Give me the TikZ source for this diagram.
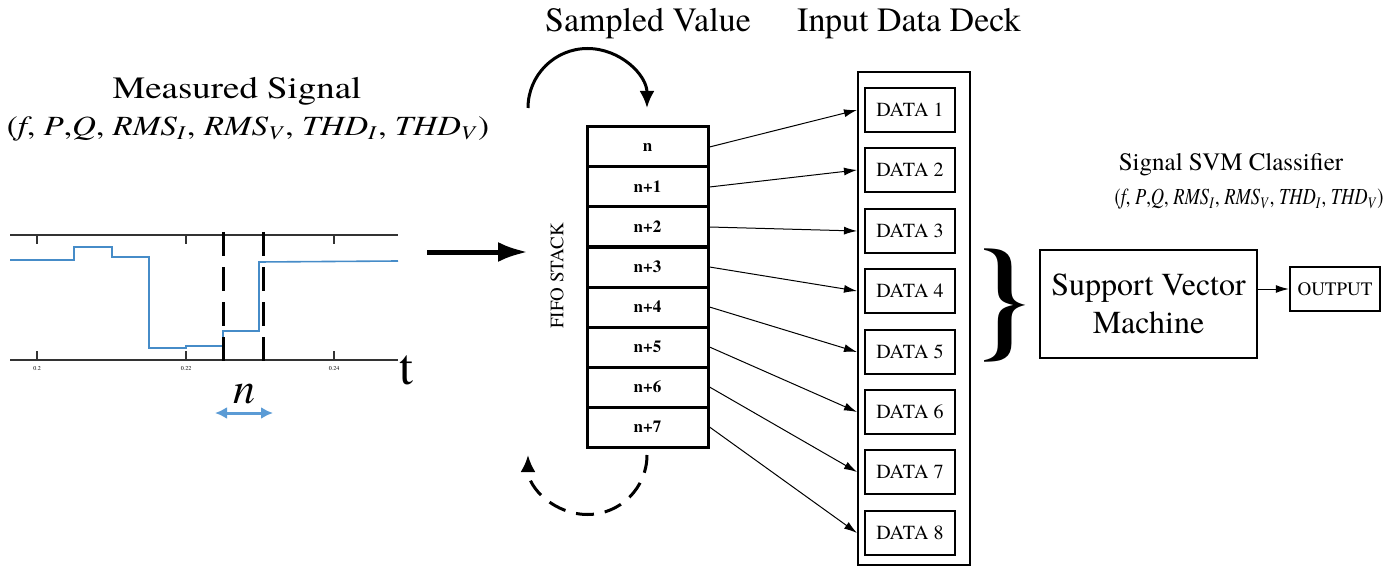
\documentclass[tikz,border=0pt]{standalone}
\usepackage{graphicx}
\usepackage{fontspec}
\setmainfont{texgyretermes}[Extension=.otf, UprightFont=*-regular, BoldFont=*-bold, ItalicFont=*-italic, BoldItalicFont=*-bolditalic]
\usetikzlibrary{arrows.meta}
\usetikzlibrary{calc}

\definecolor{sigblue}{RGB}{70,140,200}
\definecolor{arrblue}{RGB}{91,155,213}

\newcommand{\fsz}[1]{\fontsize{#1}{#1}\selectfont}
\newcommand{\isub}[2]{\textit{#1}\textsubscript{\textit{#2}}}
\newcommand{\varlist}{(\textit{f}, \textit{P},\textit{Q}, \isub{RMS}{I}, \isub{RMS}{V}, \isub{THD}{I}, \isub{THD}{V})}

\begin{document}
\begin{tikzpicture}[x=0.5pt, y=-0.5pt, line width=0.5pt, >={Latex[length=6.5pt,width=4pt]},
    cell/.style={draw, line width=1.5pt, minimum width=60.5pt, minimum height=20pt, inner sep=0, font=\bfseries\fsz{8.5}},
    datum/.style={draw, line width=1.25pt, minimum width=45pt, minimum height=22pt, inner sep=0, font=\fsz{10}}]

    \useasboundingbox (0,0) rectangle (1399,567);

    % Declare the titles
    \node[font=\fsz{15.5}] (mtitle) at (237,91) {\scalebox{1.19}[1]{Measured Signal}};
    \node[font=\fsz{13.9}] (mvars) at (248,129) {\scalebox{1.19}[1]{\varlist}};
    \node[font=\fsz{17}] (stitle) at (648,24) {Sampled Value};
    \node[font=\fsz{17}] (dtitle) at (909,24) {Input Data Deck};
    \node[font=\fsz{12.5}] (ctitle) at (1231,165) {Signal SVM Classifier};
    \node[font=\fsz{11.5}] (cvars) at (1249,199) {\scalebox{0.8}[1]{\varlist}};

    % Declare the signal plot
    \draw[line width=0.6pt, black!80] (10,235) -- (398,235);
    \draw[line width=0.6pt, black!80] (10,360) -- (398,360);
    \draw[line width=0.6pt, black!80] (37,235) -- ++(0,9) (186,235) -- ++(0,9) (334,235) -- ++(0,9);
    \draw[line width=0.6pt, black!80] (37,360) -- ++(0,-9) (186,360) -- ++(0,-9) (334,360) -- ++(0,-9);
    \node[font=\fsz{3}] (tk0) at (37,369) {0.2};
    \node[font=\fsz{3}] (tk1) at (186,369) {0.22};
    \node[font=\fsz{3}] (tk2) at (334,369) {0.24};
    \draw[sigblue, line width=0.8pt] (10,260) -- (74,260) -- (74,247) -- (112,247) -- (112,257)
        -- (149,257) -- (149,348) -- (186,348) -- (186,346) -- (223,346) -- (223,331)
        -- (259,331) -- (259,262) -- (398,261);
    \draw[line width=1.5pt, dash pattern=on 12pt off 5.5pt] (223,232) -- (223,370);
    \draw[line width=1.5pt, dash pattern=on 12pt off 5.5pt] (263,232) -- (263,370);
    \node[font=\fsz{25}] (tlab) at (406,370) {t};
    \node[font=\fsz{22}\itshape] (nlab) at (244,394) {n};
    \draw[arrblue, line width=1.5pt, {Latex[length=6pt,width=6pt]}-{Latex[length=6pt,width=6pt]}] (215,413) -- (273,413);

    % Declare the input arrow
    \coordinate (sig) at (427,252);
    \coordinate (fifoin) at (528,252);
    \draw[line width=2.5pt, -{Latex[length=15pt,width=10pt]}] (sig) -- (fifoin);

    % Declare the stack
    \node[rotate=90, font=\fsz{9.5}] (fifo) at (557,276) {FIFO STACK};
    \node[cell] (s0) at (647.5,147) {n};
    \node[cell] (s1) at (647.5,187) {n+1};
    \node[cell] (s2) at (647.5,227) {n+2};
    \node[cell] (s3) at (647.5,267) {n+3};
    \node[cell] (s4) at (647.5,307) {n+4};
    \node[cell] (s5) at (647.5,347) {n+5};
    \node[cell] (s6) at (647.5,387) {n+6};
    \node[cell] (s7) at (647.5,427) {n+7};

    % Declare the rotation arrows
    \coordinate (rotA) at (528,108);
    \coordinate (rotB) at (647,455);
    \draw[line width=1.5pt, -{Latex[length=8.5pt,width=7.5pt]}] (rotA) arc[start angle=180, end angle=360, radius=59.5];
    \draw[line width=1.5pt, dash pattern=on 9pt off 5.5pt, -{Latex[length=8.5pt,width=7.5pt]}] (rotB) arc[start angle=0, end angle=180, radius=59.5];

    % Declare the data deck
    \node[draw, line width=1pt, minimum width=56pt, minimum height=246.5pt, inner sep=0] (deck) at (914,318.5) {};
    \node[datum] (d1) at (910,110) {DATA 1};
    \node[datum] (d2) at (910,170) {DATA 2};
    \node[datum] (d3) at (910,231) {DATA 3};
    \node[datum] (d4) at (910,291) {DATA 4};
    \node[datum] (d5) at (910,352) {DATA 5};
    \node[datum] (d6) at (910,412) {DATA 6};
    \node[datum] (d7) at (910,472) {DATA 7};
    \node[datum] (d8) at (910,533) {DATA 8};

    % Declare edges
    \draw[->] (s0.east) -- (deck.west |- d1);
    \draw[->] (s1.east) -- (deck.west |- d2);
    \draw[->] (s2.east) -- (deck.west |- d3);
    \draw[->] (s3.east) -- (deck.west |- d4);
    \draw[->] (s4.east) -- (deck.west |- d5);
    \draw[->] (s5.east) -- (deck.west |- d6);
    \draw[->] (s6.east) -- (deck.west |- d7);
    \draw[->] (s7.east) -- (deck.west |- d8);

    % Declare the classifier
    \node[font=\bfseries\fsz{65}] (brace) at (1003,306) {\}};
    \node[draw, line width=1.25pt, minimum width=108.5pt, minimum height=54pt, align=center,
        font=\fontsize{16}{19}\selectfont] (svm) at (1148.5,304) {Support Vector\\Machine};
    \node[draw, line width=1.25pt, minimum width=45pt, minimum height=22pt, inner sep=0, font=\fsz{9.5}] (out) at (1335,289) {OUTPUT};
    \draw[->] (svm.east |- out.west) -- (out.west);

\end{tikzpicture}
\end{document}
